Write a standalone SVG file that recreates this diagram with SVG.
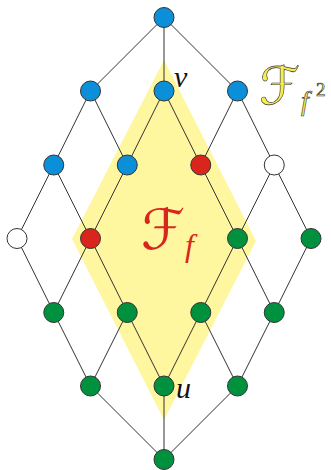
<svg xmlns="http://www.w3.org/2000/svg" width="331" height="470" viewBox="0 0 331 470">
<style>
.e{stroke:#333;stroke-width:1;fill:none}
.n circle{stroke:#333;stroke-width:1}
.b{fill:#0a8fd8}.r{fill:#d8261c}.g{fill:#00913f}.w{fill:#fff}
.lab{font-family:"Liberation Serif",serif;font-style:italic;fill:#111}
.cal{font-family:"DejaVu Sans",sans-serif}
</style>
<rect width="331" height="470" fill="#fff"/>
<polygon id="region" points="164,60 72,239 164,420 256,241" fill="#fff6a0"/>
<g id="connectors" class="e">
<line x1="164" y1="17.5" x2="90.5" y2="91"/>
<line x1="164" y1="17.5" x2="164" y2="91"/>
<line x1="164" y1="17.5" x2="237.5" y2="91"/>
<line x1="90.5" y1="91" x2="53.75" y2="165"/>
<line x1="90.5" y1="91" x2="127.25" y2="165"/>
<line x1="164" y1="91" x2="127.25" y2="165"/>
<line x1="164" y1="91" x2="200.75" y2="165"/>
<line x1="237.5" y1="91" x2="200.75" y2="165"/>
<line x1="237.5" y1="91" x2="274.25" y2="165"/>
<line x1="53.75" y1="165" x2="17" y2="238.5"/>
<line x1="53.75" y1="165" x2="90.5" y2="238.5"/>
<line x1="127.25" y1="165" x2="90.5" y2="238.5"/>
<line x1="200.75" y1="165" x2="237.5" y2="238.5"/>
<line x1="274.25" y1="165" x2="237.5" y2="238.5"/>
<line x1="274.25" y1="165" x2="311" y2="238.5"/>
<line x1="17" y1="238.5" x2="53.75" y2="312.5"/>
<line x1="90.5" y1="238.5" x2="53.75" y2="312.5"/>
<line x1="90.5" y1="238.5" x2="127.25" y2="312.5"/>
<line x1="237.5" y1="238.5" x2="200.75" y2="312.5"/>
<line x1="237.5" y1="238.5" x2="274.25" y2="312.5"/>
<line x1="311" y1="238.5" x2="274.25" y2="312.5"/>
<line x1="53.75" y1="312.5" x2="90.5" y2="386"/>
<line x1="127.25" y1="312.5" x2="90.5" y2="386"/>
<line x1="127.25" y1="312.5" x2="164" y2="386"/>
<line x1="200.75" y1="312.5" x2="164" y2="386"/>
<line x1="200.75" y1="312.5" x2="237.5" y2="386"/>
<line x1="274.25" y1="312.5" x2="237.5" y2="386"/>
<line x1="90.5" y1="386" x2="164" y2="459.5"/>
<line x1="164" y1="386" x2="164" y2="459.5"/>
<line x1="237.5" y1="386" x2="164" y2="459.5"/>
</g>
<g class="n">
<g id="n_top"><circle class="b" cx="164" cy="17.5" r="10"/></g>
<g id="n_a1"><circle class="b" cx="90.5" cy="91" r="10"/></g>
<g id="n_v"><circle class="b" cx="164" cy="91" r="10"/></g>
<g id="n_a3"><circle class="b" cx="237.5" cy="91" r="10"/></g>
<g id="n_b1"><circle class="b" cx="53.75" cy="165" r="10"/></g>
<g id="n_b2"><circle class="b" cx="127.25" cy="165" r="10"/></g>
<g id="n_b3"><circle class="r" cx="200.75" cy="165" r="10"/></g>
<g id="n_b4"><circle class="w" cx="274.25" cy="165" r="10"/></g>
<g id="n_c1"><circle class="w" cx="17" cy="238.5" r="10"/></g>
<g id="n_c2"><circle class="r" cx="90.5" cy="238.5" r="10"/></g>
<g id="n_c3"><circle class="g" cx="237.5" cy="238.5" r="10"/></g>
<g id="n_c4"><circle class="g" cx="311" cy="238.5" r="10"/></g>
<g id="n_d1"><circle class="g" cx="53.75" cy="312.5" r="10"/></g>
<g id="n_d2"><circle class="g" cx="127.25" cy="312.5" r="10"/></g>
<g id="n_d3"><circle class="g" cx="200.75" cy="312.5" r="10"/></g>
<g id="n_d4"><circle class="g" cx="274.25" cy="312.5" r="10"/></g>
<g id="n_e1"><circle class="g" cx="90.5" cy="386" r="10"/></g>
<g id="n_u"><circle class="g" cx="164" cy="386" r="10"/></g>
<g id="n_e3"><circle class="g" cx="237.5" cy="386" r="10"/></g>
<g id="n_bot"><circle class="g" cx="164" cy="459.5" r="10"/></g>
</g>
<text class="lab" x="174" y="87" font-size="30">v</text>
<text class="lab" x="176" y="398" font-size="30">u</text>
<g id="label_Ff">
<text class="cal" x="141" y="249" font-size="56" fill="#d8261c">ℱ</text>
<text class="lab" x="185" y="256" font-size="32" style="fill:#d8261c">f</text>
</g>
<g id="label_Ff2" stroke="#333" stroke-width="0.6">
<text class="cal" x="259" y="104" font-size="52" fill="#f7ec50">ℱ</text>
<text class="lab" x="301" y="110" font-size="28" style="fill:#f7ec50">f</text>
<text class="lab" x="316" y="96" font-size="19" style="fill:#f7ec50;font-style:normal">2</text>
</g>
</svg>
